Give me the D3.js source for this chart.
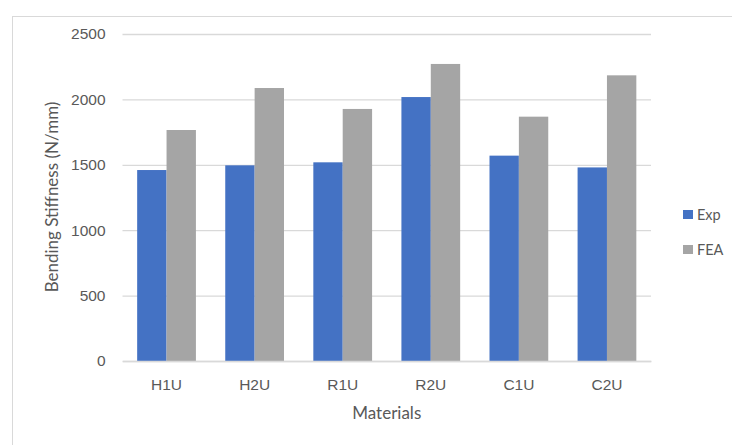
<!DOCTYPE html>
<html>
<head>
<meta charset="utf-8">
<script src="https://cdn.jsdelivr.net/npm/d3@7"></script>
<style>
  body { margin: 0; background: #fff; }
  svg { display: block; font-family: Lato, "Open Sans", sans-serif; }
</style>
</head>
<body>
<svg id="chart" width="732" height="445"></svg>
<script>
    // values
    var materials = ['H1U', 'H2U', 'R1U', 'R2U', 'C1U', 'C2U'];
    var expValues = [1460, 1496, 1519, 2018, 1570, 1480];
    var feaValues = [1766, 2087, 1927, 2271, 1868, 2184];
    var seriesNames = ['Exp', 'FEA'];
    var yTicks = [0, 500, 1000, 1500, 2000, 2500];

    var color = d3.scaleOrdinal().domain(seriesNames).range(['#4472c4', '#a5a5a5']);

    var svg = d3.select("#chart");

    // outer frame of the chart area
    svg.append("rect")
      .attr("x", 12.5).attr("y", 16.5)
      .attr("width", 740).attr("height", 440)
      .attr("fill", "none")
      .attr("stroke", "#d9d9d9");

    var margin = {left: 122.5, right: 651, top: 34, bottom: 361};

    var x = d3.scaleBand()
      .domain(materials)
      .range([margin.left, margin.right])
      .paddingInner(0.333)
      .paddingOuter(0.1665);

    var xSeries = d3.scaleBand()
      .domain(seriesNames)
      .range([0, x.bandwidth()]);

    var y = d3.scaleLinear()
      .domain([0, 2500])
      .range([margin.bottom, margin.top]);

    // gridlines + y labels
    var yAxis = d3.axisLeft(y)
      .tickValues(yTicks)
      .tickFormat(d3.format("d"))
      .tickSize(-(margin.right - margin.left))
      .tickPadding(17);

    var gy = svg.append("g")
      .attr("transform", "translate(" + margin.left + ",0)")
      .call(yAxis);
    gy.select(".domain").remove();
    gy.selectAll(".tick line").attr("stroke", "#d9d9d9").attr("stroke-width", 1.3);
    gy.selectAll(".tick text")
      .attr("fill", "#595959")
      .style("font-size", "15.5px");

    var rows = materials.map(function(m, i) {
      return {material: m, values: [expValues[i], feaValues[i]]};
    });

    var groups = svg.append("g")
      .selectAll("g")
      .data(rows)
      .enter().append("g")
      .attr("transform", function(d) { return "translate(" + x(d.material) + ",0)"; });

    groups.selectAll("rect")
      .data(function(d) {
        return seriesNames.map(function(s, k) { return {series: s, value: d.values[k]}; });
      })
      .enter().append("rect")
      .attr("x", function(d) { return xSeries(d.series); })
      .attr("width", xSeries.bandwidth())
      .attr("y", function(d) { return y(d.value); })
      .attr("height", function(d) { return y(0) - y(d.value); })
      .attr("fill", function(d) { return color(d.series); });

    // x axis
    var xAxis = d3.axisBottom(x).tickSize(0).tickPadding(18);
    var gx = svg.append("g")
      .attr("transform", "translate(0," + margin.bottom + ")")
      .call(xAxis);
    gx.select(".domain").attr("stroke", "#d9d9d9").attr("stroke-width", 1.3);
    gx.selectAll(".tick text")
      .attr("fill", "#595959")
      .style("font-size", "15.5px");

    // axis titles
    svg.append("text")
      .attr("x", (margin.left + margin.right) / 2)
      .attr("y", 419)
      .attr("text-anchor", "middle")
      .attr("fill", "#595959")
      .style("font-size", "17px")
      .text("Materials");

    svg.append("text")
      .attr("transform", "translate(58,197) rotate(-90)")
      .attr("text-anchor", "middle")
      .attr("fill", "#595959")
      .style("font-size", "17px")
      .text("Bending Stiffness (N/mm)");

    // legend
    var legend = svg.append("g")
      .selectAll("g")
      .data(seriesNames)
      .enter().append("g")
      .attr("transform", function(d, i) { return "translate(683," + (210 + i * 35) + ")"; });

    legend.append("rect")
      .attr("width", 10).attr("height", 9)
      .attr("fill", function(d) { return color(d); });

    legend.append("text")
      .attr("x", 14)
      .attr("y", 9.5)
      .attr("fill", "#595959")
      .style("font-size", "14.5px")
      .text(function(d) { return d; });
</script>
</body>
</html>
